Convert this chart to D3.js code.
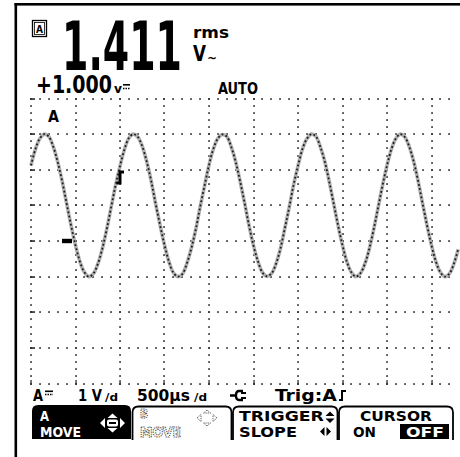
<!DOCTYPE html>
<html><head><meta charset="utf-8">
<script src="https://cdn.jsdelivr.net/npm/d3@7"></script>
<style>
html,body{margin:0;padding:0;background:#fff;}
svg{display:block;}
text{font-family:"DejaVu Sans Condensed","DejaVu Sans",sans-serif;font-weight:bold;font-stretch:condensed;}
</style></head><body>
<svg id="c" width="460" height="457"></svg>
<script>
// ---- data ----
const channel = "A";
const readingValue = "1.411";
const readingUnits = ["rms", "V"];
const offsetLabel = "+1.000";
const rangeMode = "AUTO";
const voltsPerDiv = "1 V";
const timePerDiv = "500µs";
const trigLabel = "Trig:A";
const softkeys = [
  {top: "A", bottom: "MOVE", active: true},
  {top: "B", bottom: "MOVE", disabled: true},
  {top: "TRIGGER", bottom: "SLOPE"},
  {top: "CURSOR", bottom: "ON", extra: "OFF"}
];
const timeTicks = [0, 500, 1000, 1500, 2000, 2500, 3000, 3500, 4000, 4500];  // µs
const voltTicks = [-4, -3, -2, -1, 0, 1, 2, 3, 4];                           // V
const sampleInterval = 50; // µs
const volts = [
  2.12, 2.58, 2.88, 3.00, 2.93, 2.65, 2.22, 1.68, 1.06, 0.44, -0.12, -0.58, -0.88, -1.00, -0.92, -0.65, -0.23, 0.32, 0.94, 1.56,
  2.10, 2.57, 2.89, 3.00, 2.92, 2.66, 2.23, 1.69, 1.05, 0.45, -0.11, -0.58, -0.89, -1.00, -0.93, -0.64, -0.22, 0.31, 0.95, 1.55,
  2.13, 2.59, 2.88, 2.99, 2.93, 2.64, 2.22, 1.67, 1.07, 0.43, -0.13, -0.57, -0.88, -0.99, -0.92, -0.66, -0.24, 0.33, 0.93, 1.57,
  2.11, 2.58, 2.87, 3.00, 2.94, 2.65, 2.24, 1.68, 1.06, 0.44, -0.12, -0.59, -0.88, -1.00, -0.91, -0.65, -0.23, 0.32, 0.94, 1.56,
  2.12, 2.58, 2.88, 3.00, 2.92, 2.65, 2.23, 1.68, 1.05, 0.44, -0.12, -0.58, -0.88, -1.00, -0.92, -0.65, -0.23
];
const groundLevel = 0;
const triggerTime = 1000, triggerLevel = 1.8;

// ---- drawing ----
const svg = d3.select("#c");
const x = d3.scaleLinear().domain([0, 5000]).range([31, 476]);
const y = d3.scaleLinear().domain([-4, 4]).range([383.5, 98.5]);
const gridEndT = 4700;

// frame
svg.append("rect").attr("x", 14.5).attr("y", 3).attr("width", 446).attr("height", 2.6).attr("fill", "#000");
svg.append("rect").attr("x", 14.5).attr("y", 3).attr("width", 2.6).attr("height", 454).attr("fill", "#000");

// grid dots
const g = svg.append("g").attr("fill", "#333");
const hMinor = d3.range(0, gridEndT + 1, 100);
voltTicks.forEach(v => {
  hMinor.forEach(t => {
    g.append("rect").attr("x", Math.round(x(t)) - 0.8).attr("y", Math.round(y(v)) - 0.8).attr("width", 1.7).attr("height", 1.7);
  });
  if (v > -4) g.append("rect").attr("x", Math.round(x(0)) - 1).attr("y", Math.round(y(v)) - 0.8).attr("width", 5).attr("height", 1.7);
});
const vMinor = d3.range(-4, 4.001, 0.2);
timeTicks.forEach(t => {
  vMinor.forEach(v => {
    g.append("rect").attr("x", Math.round(x(t)) - 0.8).attr("y", Math.round(y(v)) - 0.8).attr("width", 1.7).attr("height", 1.7);
  });
  g.append("rect").attr("x", Math.round(x(t)) - 0.6).attr("y", Math.round(y(-4)) - 4).attr("width", 1.3).attr("height", 4);
});

// waveform
const pts = volts.map((v, i) => [x(i * sampleInterval), y(v)]);
const line = d3.line().curve(d3.curveCatmullRom);
svg.append("path").attr("d", line(pts)).attr("fill", "none").attr("stroke", "#b0b0b0").attr("stroke-width", 3.6);
svg.append("path").attr("d", line(pts)).attr("fill", "none").attr("stroke", "#1a1a1a").attr("stroke-width", 1.8)
  .attr("stroke-dasharray", "1.8,2.4");

// ground marker
svg.append("rect").attr("x", 62).attr("y", y(groundLevel) - 2.2).attr("width", 10).attr("height", 4.4).attr("fill", "#000");
// trigger marker
const tx = x(triggerTime), ty = y(triggerLevel);
svg.append("path").attr("d", `M${tx-3.5},${ty+6} L${tx},${ty+6} L${tx},${ty-5} L${tx+4},${ty-5}`)
  .attr("fill", "none").attr("stroke", "#000").attr("stroke-width", 3);

// text helper: scales the glyphs horizontally so the text fills the wanted width
function txt(s, px, py, size, len, fill) {
  const t = svg.append("text").attr("x", 0).attr("y", 0).attr("font-size", size).attr("fill", fill || "#000").text(s);
  let sx = 1;
  if (len) {
    const w = t.node().getComputedTextLength();
    if (w > 0) sx = len / w;
  }
  t.attr("transform", `translate(${px},${py}) scale(${sx},1)`);
  return t;
}

// header
svg.append("rect").attr("x", 32.5).attr("y", 20.5).attr("width", 14).attr("height", 16).attr("fill", "none").attr("stroke", "#000").attr("stroke-width", 1.3);
svg.append("rect").attr("x", 34.5).attr("y", 22.5).attr("width", 10).attr("height", 12).attr("fill", "none").attr("stroke", "#000").attr("stroke-width", 0.8);
txt(channel, 36, 33, 11, 7);
txt(readingValue, 62, 70, 68, 120);
txt(readingUnits[0], 193, 38, 15, 36);
txt(readingUnits[1], 193, 61, 21, 13);
txt("~", 207, 62, 13, 10);

txt(offsetLabel, 36, 93, 24, 76);
txt("v", 114, 93, 12, 8);
svg.append("rect").attr("x", 123).attr("y", 84).attr("width", 7).attr("height", 1.6).attr("fill", "#000");
svg.append("path").attr("d", "M123,88.5 L130,88.5").attr("stroke", "#000").attr("stroke-width", 1.4).attr("stroke-dasharray", "1.5,1");
txt(rangeMode, 218, 94, 16, 40);
txt(channel, 48, 122, 16, 11);

// status line
txt(channel, 33, 401, 15, 10);
svg.append("rect").attr("x", 45).attr("y", 390.5).attr("width", 8).attr("height", 1.6).attr("fill", "#000");
svg.append("path").attr("d", "M45,394.5 L53,394.5").attr("stroke", "#000").attr("stroke-width", 1.4).attr("stroke-dasharray", "1.5,1");
txt(voltsPerDiv, 78, 401, 15, 24);
txt("/d", 105, 401, 11, 13);
txt(timePerDiv, 137, 401, 15, 53);
txt("/d", 194, 401, 11, 13);
svg.append("path").attr("d", "M230,395.5 L236,395.5 M243,391 L239,391 Q236,391 236,395.5 Q236,400 239,400 L243,400")
  .attr("fill", "none").attr("stroke", "#000").attr("stroke-width", 2.4);
svg.append("path").attr("d", "M241,393 L246,393 M241,398 L246,398").attr("stroke", "#000").attr("stroke-width", 2);
txt(trigLabel, 275, 401, 15, 62);
svg.append("path").attr("d", "M339,400 L342,400 L342,391 L346,391").attr("fill", "none").attr("stroke", "#000").attr("stroke-width", 2);

// softkeys
svg.append("path").attr("d", "M32,439 L32,411 Q32,405 38,405 L125,405 Q131,405 131,411 L131,439 Z").attr("fill", "#000");
[[132.5, 231.5], [233, 337.5], [339, 453]].forEach(([a, b]) => {
  svg.append("path").attr("d", `M${a},440 L${a},412.5 Q${a},406.5 ${a+6},406.5 L${b-6},406.5 Q${b},406.5 ${b},412.5 L${b},440`)
    .attr("fill", "none").attr("stroke", "#000").attr("stroke-width", 1.8);
});
const top1 = 420.5, bot1 = 437, ks = 13.5;
// key 1
txt(softkeys[0].top, 40, top1, ks, 9, "#fff");
txt(softkeys[0].bottom, 40, bot1, ks + 0.5, 41, "#fff");
svg.append("path").attr("d", "M100,423 L105,418 L105,428 Z M125,423 L120,418 L120,428 Z M112.5,413.5 L107.5,418 L117.5,418 Z M112.5,432.5 L107.5,428 L117.5,428 Z")
  .attr("fill", "#fff");
svg.append("rect").attr("x", 107).attr("y", 419.5).attr("width", 11).attr("height", 7).attr("rx", 2).attr("fill", "#fff");
svg.append("rect").attr("x", 109).attr("y", 422).attr("width", 7).attr("height", 2).attr("fill", "#000");
// key 2 (disabled, dotted)
txt(softkeys[1].top, 140, 418, 12, 8, "#fff").attr("stroke", "#444").attr("stroke-width", 1).attr("stroke-dasharray", "1.2,1");
txt(softkeys[1].bottom, 140, bot1, ks + 0.5, 41, "#fff").attr("stroke", "#444").attr("stroke-width", 1).attr("stroke-dasharray", "1.2,1");
svg.append("path").attr("d", "M197,418 L201,414.5 L201,421.5 Z M217,418 L213,414.5 L213,421.5 Z M207,410 L203.5,413 L210.5,413 Z M207,426 L203.5,423 L210.5,423 Z")
  .attr("fill", "none").attr("stroke", "#555").attr("stroke-width", 1).attr("stroke-dasharray", "1.2,1");
// key 3
txt(softkeys[2].top, 239, top1, ks, 85);
svg.append("path").attr("d", "M330,411.5 L325.5,416 L334.5,416 Z M330,423 L325.5,418.5 L334.5,418.5 Z").attr("fill", "#000");
txt(softkeys[2].bottom, 239, bot1, ks + 0.5, 58);
svg.append("path").attr("d", "M320,431.5 L324.5,427 L324.5,436 Z M331,431.5 L326.5,427 L326.5,436 Z").attr("fill", "#000");
// key 4
txt(softkeys[3].top, 360, top1, ks, 72);
txt(softkeys[3].bottom, 353, bot1, ks + 0.5, 23);
svg.append("rect").attr("x", 400).attr("y", 424).attr("width", 49).attr("height", 15).attr("fill", "#000");
txt(softkeys[3].extra, 406, bot1, ks + 0.5, 38, "#fff");
</script>
</body></html>
